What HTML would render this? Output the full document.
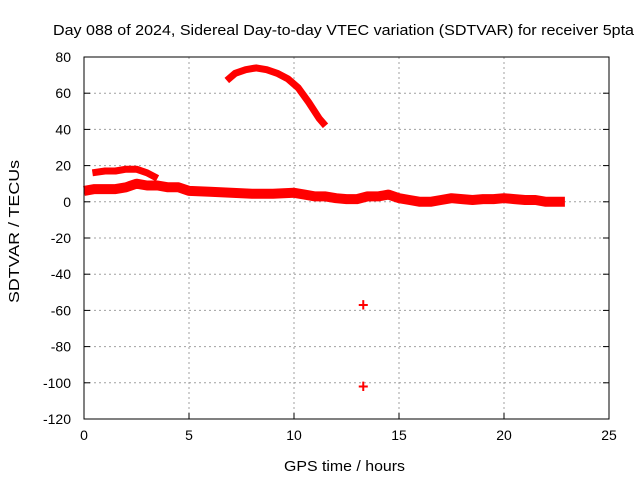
<!DOCTYPE html>
<html><head><meta charset="utf-8"><style>
body{margin:0;background:#fff}
svg{display:block;font-family:"Liberation Sans",sans-serif}
</style></head><body>
<svg id="chart" width="640" height="480"></svg>
<script>
const xTicks=[0,5,10,15,20,25];
const yTicks=[80,60,40,20,0,-20,-40,-60,-80,-100,-120];
const bandT=[0,0.5,1,1.5,2,2.5,3,3.5,4,4.5,5,6,7,8,9,10,10.5,11,11.5,12,12.5,13,13.5,14,14.5,15,15.5,16,16.5,17,17.5,18,18.5,19,19.5,20,20.5,21,21.5,22,22.5,22.9];
const bandV=[6,7,7,7,8,10,9,9,8,8,6,5.5,5,4.5,4.5,5,4,3,3,2,1.5,1.5,3,3,4,2,1,0,0,1,2,1.5,1,1.5,1.5,2,1.5,1,1,0,0,0];
const upperT=[0.4,1,1.5,2,2.5,3,3.5];
const upperV=[16,17,17,18,18,16,13];
const arcT=[6.8,7.2,7.7,8.2,8.7,9.2,9.7,10.2,10.7,11.2,11.5];
const arcV=[67,71,73,74,73,71,68,63,55,46,42];
const outT=[13.3,13.3];
const outV=[-57,-102];
const L=84,R=609,T=57,B=419;
const sx=t=>L+(t-0)/25*(R-L);
const sy=v=>T+(80-v)/200*(B-T);
const svg=document.getElementById('chart');
const NS='http://www.w3.org/2000/svg';
function mk(tag,a,txt){const e=document.createElementNS(NS,tag);for(const k in a)e.setAttribute(k,a[k]);if(txt!==undefined)e.textContent=txt;svg.appendChild(e);return e;}
xTicks.forEach(t=>{
  if(t>0&&t<25){const g=mk('line',{x1:sx(t),x2:sx(t),y1:T,y2:B,stroke:'#a0a0a0','stroke-dasharray':'2,3'});
  
  }
  const k=mk('line',{x1:sx(t),x2:sx(t),y1:B,y2:B-6,stroke:'#000'});
  
  
  const lb=mk('text',{x:sx(t),y:B+21,'text-anchor':'middle','font-size':'14'},String(t));
  
  
});
yTicks.forEach(v=>{
  if(v<80&&v>-120){const g=mk('line',{x1:L,x2:R,y1:sy(v),y2:sy(v),stroke:'#a0a0a0','stroke-dasharray':'2,3'});
  
  }
  const k=mk('line',{x1:L,x2:L+6,y1:sy(v),y2:sy(v),stroke:'#000'});
  
  
  const k2=mk('line',{x1:R,x2:R-6,y1:sy(v),y2:sy(v),stroke:'#000'});
  
  
  const lb=mk('text',{x:L-13,y:sy(v)+5,'text-anchor':'end','font-size':'14'},String(v));
  
  
});
function series(ts,vs,w,name){
  const p=ts.map((t,i)=>sx(t).toFixed(1)+','+sy(vs[i]).toFixed(1)).join(' ');
  const e=mk('polyline',{points:p,fill:'none',stroke:'#ff0000','stroke-width':w,'stroke-linejoin':'round'});
  
  
}
series(bandT,bandV,10,'main-band-series');
series(upperT,upperV,7,'upper-band-series');
series(arcT,arcV,7,'arc-series');
outT.forEach((t,i)=>{
  const e=mk('text',{x:sx(t),y:sy(outV[i])+6,'text-anchor':'middle','font-size':'18','font-weight':'bold',fill:'#ff0000'},'+');
  
  
});
const f=mk('rect',{x:L,y:T,width:R-L,height:B-T,fill:'none',stroke:'#000'});


const ti=mk('text',{x:53,y:35,'font-size':'15',textLength:'581',lengthAdjust:'spacingAndGlyphs'},'Day 088 of 2024, Sidereal Day-to-day VTEC variation (SDTVAR) for receiver 5pta');


const xt=mk('text',{x:284,y:471,'font-size':'15',textLength:'121',lengthAdjust:'spacingAndGlyphs'},'GPS time / hours');


const yt=mk('text',{x:0,y:0,'font-size':'15',textLength:'143',lengthAdjust:'spacingAndGlyphs',transform:'translate(19,303) rotate(-90)'},'SDTVAR / TECUs');


</script>
</body></html>
